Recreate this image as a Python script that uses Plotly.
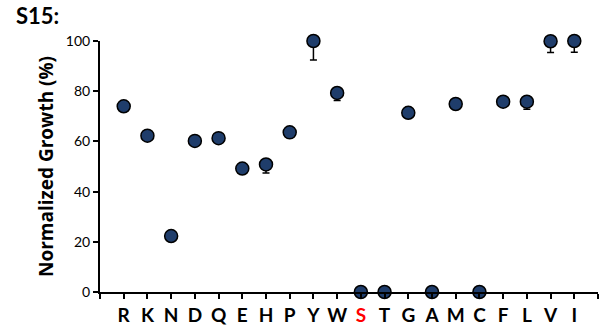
import plotly.graph_objects as go

# Amino acid substitutions at position S15 and their normalized growth
residues = ["R", "K", "N", "D", "Q", "E", "H", "P", "Y", "W",
            "S", "T", "G", "A", "M", "C", "F", "L", "V", "I"]
growth = [74.0, 62.3, 22.3, 60.2, 61.3, 49.2, 50.8, 63.6, 100.0, 79.3,
          0.0, 0.0, 71.4, 0.0, 74.9, 0.0, 75.8, 75.8, 99.9, 100.0]
err_minus = [2.0, 1.2, 1.0, 1.2, 1.5, 1.2, 3.4, 1.2, 7.6, 3.0,
             0.0, 0.0, 1.2, 0.0, 1.2, 0.0, 1.5, 3.0, 4.5, 4.5]
wild_type = "S"
y_ticks = [0, 20, 40, 60, 80, 100]

positions = list(range(len(residues)))
tick_text = [
    f"<span style='color:#ff0000'>{r}</span>" if r == wild_type else r
    for r in residues
]

fig = go.Figure()
fig.add_trace(go.Scatter(
    x=positions,
    y=growth,
    mode="markers",
    marker=dict(size=13, color="#1f3d6b", line=dict(color="#000000", width=1.5)),
    error_y=dict(type="data", symmetric=False, array=[0] * len(err_minus),
                 arrayminus=err_minus, color="#000000", thickness=1.5, width=3.5),
    cliponaxis=False,
    showlegend=False,
))

fig.update_layout(
    width=613,
    height=326,
    margin=dict(l=100, r=15, t=41, b=34, autoexpand=False),
    paper_bgcolor="white",
    plot_bgcolor="white",
    font=dict(family="Lato, Liberation Sans, sans-serif", color="#000000"),
    annotations=[dict(
        text="<b>S15:</b>", x=-86 / 498, y=1 + 41 / 251, xref="paper", yref="paper",
        xanchor="left", yanchor="top", showarrow=False,
        font=dict(size=22, color="#000000"),
    )],
)

fig.update_xaxes(
    range=[-1, 20],
    automargin=False,
    tickmode="array",
    tickvals=[-1] + positions + [20],
    ticktext=[""] + tick_text + [""],
    ticks="outside",
    ticklen=5,
    tickwidth=1.5,
    tickcolor="#000000",
    tickfont=dict(size=19, weight="bold", color="#000000"),
    showline=True,
    linecolor="#000000",
    linewidth=2,
    showgrid=False,
    zeroline=False,
)
fig.update_yaxes(
    range=[0, 100],
    automargin=False,
    tickmode="array",
    tickvals=y_ticks,
    ticks="outside",
    ticklen=5,
    tickwidth=1.5,
    tickcolor="#000000",
    tickfont=dict(size=14, color="#000000"),
    showline=True,
    linecolor="#000000",
    linewidth=2,
    showgrid=False,
    zeroline=False,
    title=dict(text="<b>Normalized Growth (%)</b>",
               font=dict(size=19, family="Open Sans, Lato, sans-serif"), standoff=7),
)

fig.write_html("out.html")
